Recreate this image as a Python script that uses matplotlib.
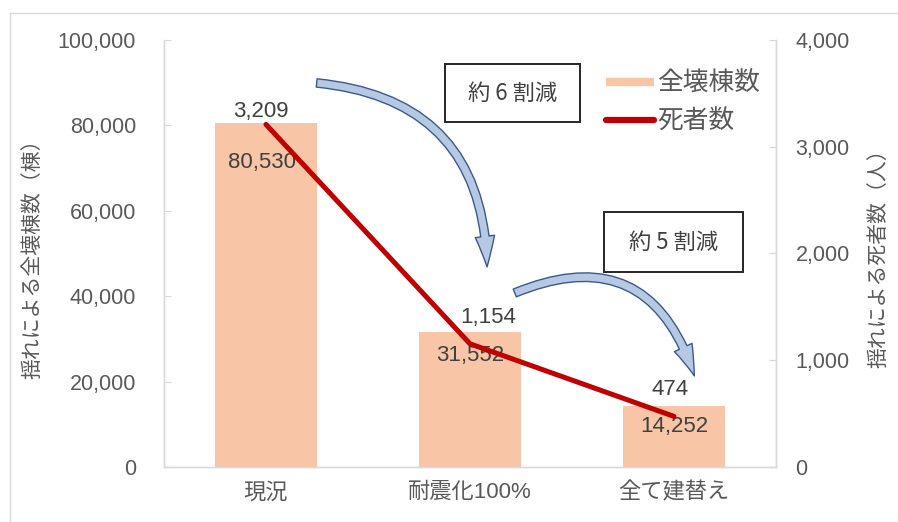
import matplotlib.pyplot as plt
from matplotlib.patches import FancyArrowPatch, Rectangle
from matplotlib.lines import Line2D
from matplotlib.ticker import FuncFormatter

plt.rcParams['font.family'] = ['Liberation Sans', 'Noto Sans CJK JP', 'DejaVu Sans']

# data
categories = ['現況', '耐震化100%', '全て建替え']
collapsed_buildings = [80530, 31552, 14252]   # 全壊棟数 (left axis)
deaths = [3209, 1154, 474]                    # 死者数 (right axis)

# label offsets in points (dx, dy)
bar_label_offsets = [(-3, -28), (0, -17), (0, -15)]
line_label_offsets = [(-4, 9), (13, 19), (-3, 19)]

BAR_COLOR = '#F8C5A6'
LINE_COLOR = '#C00000'
TEXT_COLOR = '#595959'
GRID_GRAY = '#D9D9D9'

fig = plt.figure(figsize=(8.98, 5.22), dpi=100)
ax = fig.add_axes([0.1826, 0.1054, 0.6815, 0.818])
ax2 = ax.twinx()

x = list(range(len(categories)))
ax.bar(x, collapsed_buildings, width=0.5, color=BAR_COLOR, zorder=2)
ax.set_xlim(-0.5, len(categories) - 0.5)
ax.set_ylim(0, 100000)
ax.set_yticks(range(0, 100001, 20000))
ax2.plot(x, deaths, color=LINE_COLOR, linewidth=3.6, solid_capstyle='round', zorder=5)
ax2.set_ylim(0, 4000)
ax2.set_yticks(range(0, 4001, 1000))

fmt = FuncFormatter(lambda v, p: f'{int(v):,}')
ax.yaxis.set_major_formatter(fmt)
ax2.yaxis.set_major_formatter(fmt)

ax.set_xticks(x)
ax.set_xticklabels(categories, fontsize=16, color=TEXT_COLOR)
ax.tick_params(axis='x', length=0, pad=11)
ax.tick_params(axis='y', labelsize=15.5, labelcolor=TEXT_COLOR, color=GRID_GRAY,
               length=5, direction='in', pad=20)
ax2.tick_params(axis='y', labelsize=15.5, labelcolor=TEXT_COLOR, color=GRID_GRAY,
                length=5, direction='in', pad=14)

for a in (ax, ax2):
    a.spines['top'].set_visible(False)
    for s in ('left', 'right', 'bottom'):
        a.spines[s].set_color(GRID_GRAY)
        a.spines[s].set_linewidth(1.0)

ax.set_ylabel('揺れによる全壊棟数（棟）', fontsize=15, color=TEXT_COLOR)
ax.yaxis.set_label_coords(-0.198, 0.5)
ax2.set_ylabel('揺れによる死者数（人）', fontsize=15, color=TEXT_COLOR, rotation=90)
ax2.yaxis.set_label_coords(1.152, 0.5)

# value labels
for xi, v, (dx, dy) in zip(x, collapsed_buildings, bar_label_offsets):
    ax.annotate(f'{v:,}', (xi, v), xytext=(dx, dy), textcoords='offset points',
                ha='center', va='center', fontsize=16, color='#404040', zorder=3)
for xi, v, (dx, dy) in zip(x, deaths, line_label_offsets):
    ax2.annotate(f'{v:,}', (xi, v), xytext=(dx, dy), textcoords='offset points',
                 ha='center', va='center', fontsize=16, color='#404040', zorder=6)

# curved arrows
arrow_specs = [((0.245, 0.900), (0.528, 0.462), -0.45),
               ((0.569, 0.405), (0.868, 0.207), -0.55)]
for tail, tip, rad in arrow_specs:
    arr = FancyArrowPatch(tail, tip, transform=ax2.transAxes,
                          connectionstyle=f'arc3,rad={rad}',
                          arrowstyle='simple,head_width=14,head_length=22,tail_width=6',
                          facecolor='#B7C9E2', edgecolor='#3A5A8C', linewidth=1.0,
                          zorder=7)
    ax2.add_patch(arr)

# text boxes
boxes = [((0.459, 0.808), 0.221, 0.136, '約 6 割減'),
         ((0.719, 0.457), 0.227, 0.140, '約 5 割減')]
for (bx, by), bw, bh, txt in boxes:
    ax2.add_patch(Rectangle((bx, by), bw, bh, transform=ax2.transAxes,
                            facecolor='white', edgecolor='#262626', linewidth=1.4,
                            zorder=8))
    ax2.text(bx + bw / 2, by + bh / 2, txt, transform=ax2.transAxes,
             ha='center', va='center', fontsize=16, color='#404040', zorder=9,
             family=['Noto Sans CJK JP', 'DejaVu Sans'])

# legend
handles = [Line2D([], [], color=BAR_COLOR, linewidth=6, solid_capstyle='butt'),
           Line2D([], [], color=LINE_COLOR, linewidth=4.5, solid_capstyle='round')]
leg = fig.legend(handles, ['全壊棟数', '死者数'], loc='upper left',
                 bbox_to_anchor=(0.675, 0.862), frameon=False, fontsize=18.5,
                 handlelength=1.85, handletextpad=0.15, labelspacing=0.52,
                 borderaxespad=0, borderpad=0)
for t in leg.get_texts():
    t.set_color(TEXT_COLOR)

# outer frame lines of the picture
fig.add_artist(Line2D([0.011, 1.0], [0.975, 0.975], color=GRID_GRAY, linewidth=1.0))
fig.add_artist(Line2D([0.011, 0.011], [0.0, 0.975], color=GRID_GRAY, linewidth=1.0))

fig.savefig('out.png', dpi=100)
